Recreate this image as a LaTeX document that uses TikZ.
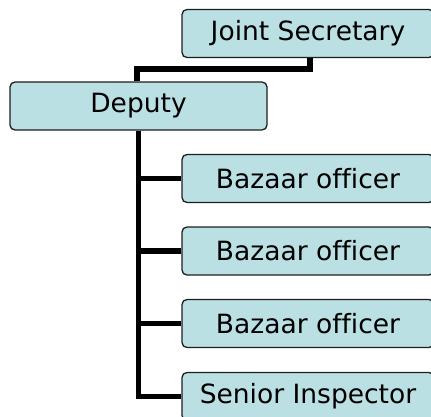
\documentclass[tikz,border=0pt]{standalone}
\usepackage{fontspec}
\setmainfont[Ligatures=NoCommon]{DejaVu Sans}
\usetikzlibrary{backgrounds}
\definecolor{boxfill}{RGB}{186,224,227}
\definecolor{boxline}{RGB}{30,30,30}
\begin{document}
\begin{tikzpicture}[x=1pt,y=-1pt,
  orgbox/.style={draw=boxline,line width=1.3pt,fill=boxfill,rounded corners=5pt,
    minimum width=252pt,minimum height=48pt,inner sep=0pt,
    font=\fontsize{26.5}{30}\selectfont,text=black},
  link/.style={line width=5.5pt,draw=black}]
\useasboundingbox (0,0) rectangle (431,417);
\clip (0,0) rectangle (431,417);
% the boxes
\node[orgbox] (js) at (308,33.5) {Joint Secretary};
\node[orgbox,minimum width=257pt] (dep) at (138.5,106) {Deputy};
\node[orgbox] (b1) at (308,178.5) {Bazaar officer};
\node[orgbox] (b2) at (308,251) {Bazaar officer};
\node[orgbox] (b3) at (308,323.5) {Bazaar officer};
\node[orgbox] (si) at (308,396.5) {Senior Inspector};
% connectors behind the boxes
\begin{scope}[on background layer]
\draw[link] ([xshift=2pt]js.south) -- ++(0,11) -| ([xshift=-1.5pt]dep.north);
\draw[link] (dep.south) |- (si.west);
\draw[link] (dep.south) |- (b1.west);
\draw[link] (dep.south) |- (b2.west);
\draw[link] (dep.south) |- (b3.west);
\end{scope}
\end{tikzpicture}
\end{document}
